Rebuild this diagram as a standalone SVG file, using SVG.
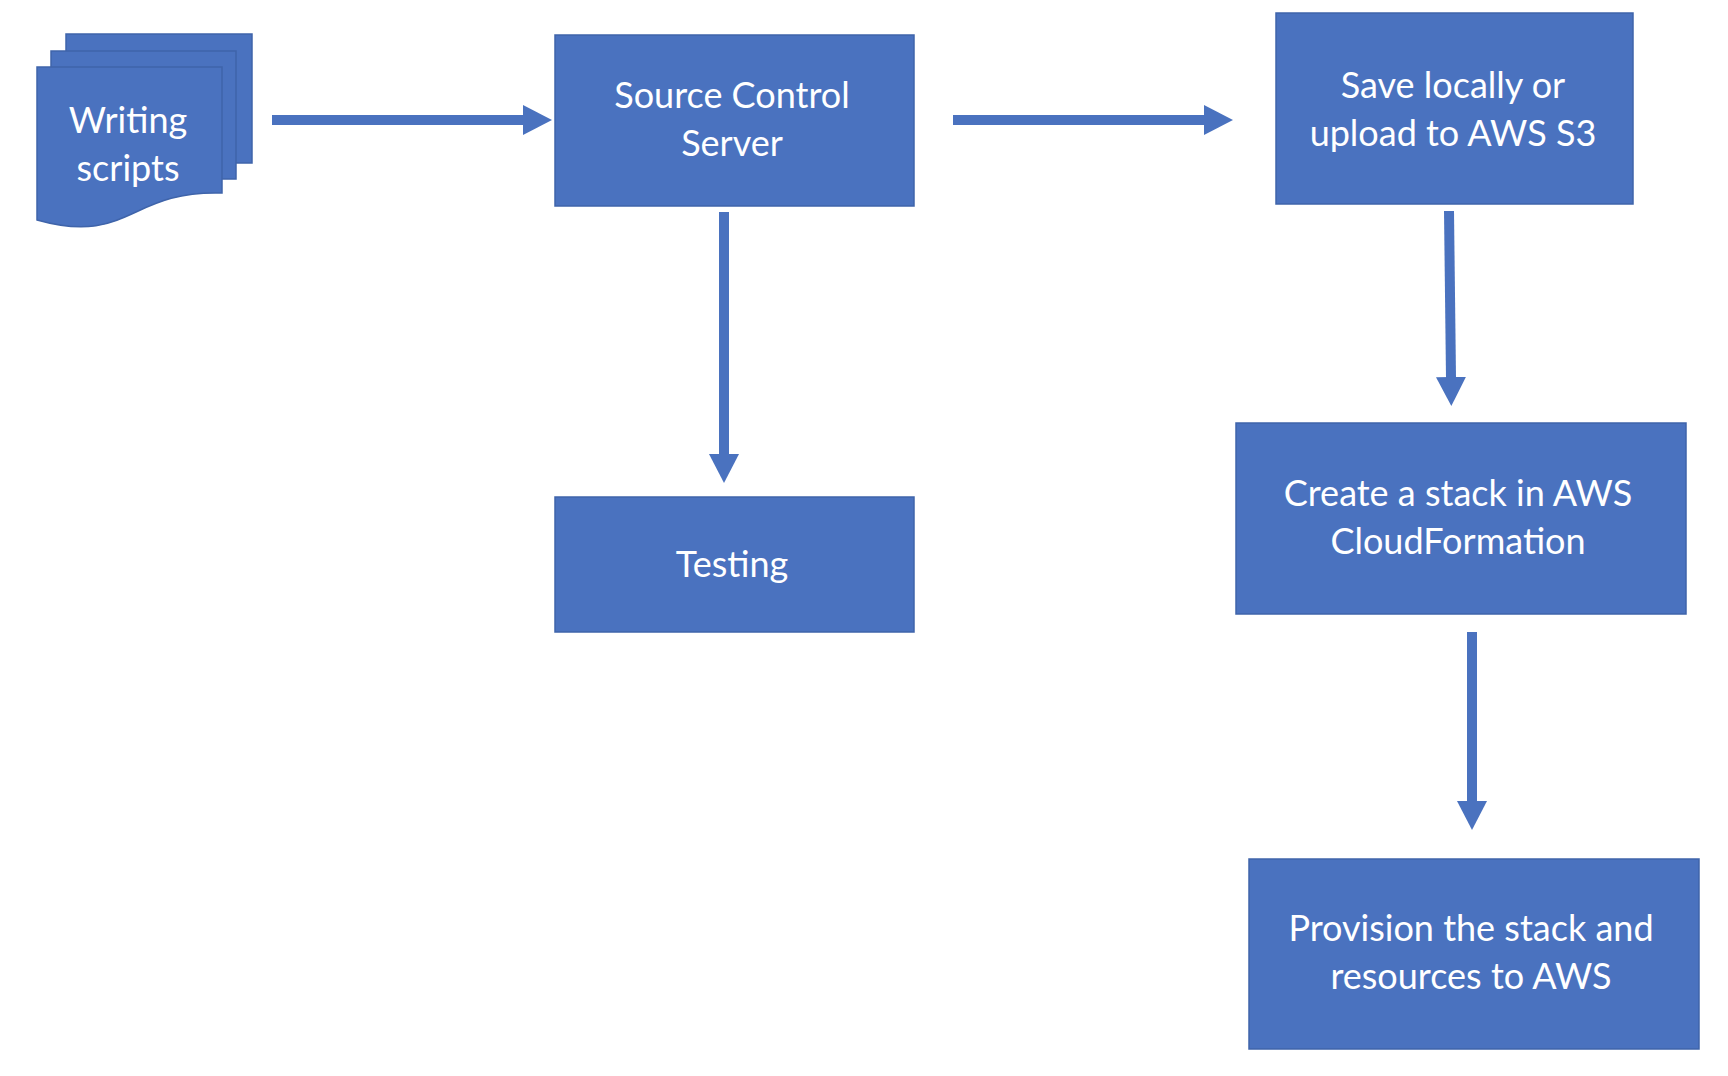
<svg xmlns="http://www.w3.org/2000/svg" width="1728" height="1076" viewBox="0 0 1728 1076">
<style>
.box{fill:#4a72bf;stroke:#3f64aa;stroke-width:1.5}
.lbl{fill:#ffffff;font-family:Lato,"Open Sans","Liberation Sans",sans-serif;font-size:36px;text-anchor:middle}
.conn{stroke:#4a72bf;stroke-width:10;fill:none}
</style>
<defs>
<marker id="ah" markerUnits="userSpaceOnUse" markerWidth="30" markerHeight="30" viewBox="0 0 30 30" refX="1" refY="15" orient="auto">
<path d="M0,0 L29,15 L0,30 Z" fill="#4a72bf"/>
</marker>
</defs>
<rect width="1728" height="1076" fill="#ffffff"/>
<g id="connectors">
<line class="conn" x1="272" y1="120" x2="524" y2="120" marker-end="url(#ah)"/>
<line class="conn" x1="953" y1="120" x2="1205" y2="120" marker-end="url(#ah)"/>
<line class="conn" x1="724" y1="212" x2="724" y2="455" marker-end="url(#ah)"/>
<line class="conn" x1="1449" y1="211" x2="1451" y2="378" marker-end="url(#ah)"/>
<line class="conn" x1="1472" y1="632" x2="1472" y2="802" marker-end="url(#ah)"/>
</g>
<g id="writing-scripts">
<rect class="box" x="66" y="34" width="186" height="129"/>
<rect class="box" x="51" y="51" width="185" height="128"/>
<path class="box" d="M37,67 H222 V193 C129,190 129,246 37,220 Z"/>
<text class="lbl" x="128" y="133">Writing</text>
<text class="lbl" x="128" y="181">scripts</text>
</g>
<g id="source-control">
<rect class="box" x="555" y="35" width="359" height="171"/>
<text class="lbl" x="732" y="108">Source Control</text>
<text class="lbl" x="732" y="156">Server</text>
</g>
<g id="testing">
<rect class="box" x="555" y="497" width="359" height="135"/>
<text class="lbl" x="732" y="577">Testing</text>
</g>
<g id="save">
<rect class="box" x="1276" y="13" width="357" height="191"/>
<text class="lbl" x="1453" y="98">Save locally or</text>
<text class="lbl" x="1453" y="146">upload to AWS S3</text>
</g>
<g id="create-stack">
<rect class="box" x="1236" y="423" width="450" height="191"/>
<text class="lbl" x="1458" y="506">Create a stack in AWS</text>
<text class="lbl" x="1458" y="554">CloudFormation</text>
</g>
<g id="provision">
<rect class="box" x="1249" y="859" width="450" height="190"/>
<text class="lbl" x="1471" y="941">Provision the stack and</text>
<text class="lbl" x="1471" y="989">resources to AWS</text>
</g>
</svg>
